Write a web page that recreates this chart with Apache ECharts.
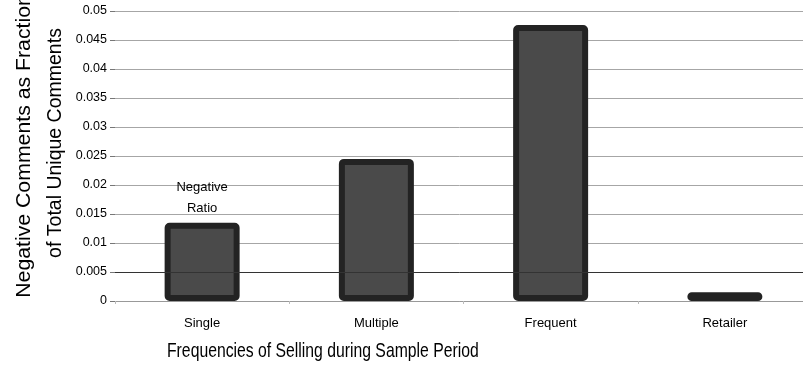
<!DOCTYPE html>
<html><head><meta charset="utf-8">
<script src="https://cdn.jsdelivr.net/npm/echarts@6/dist/echarts.min.js"></script>
<style>html,body{margin:0;padding:0;background:#fff}#c{width:803px;height:367px}</style>
</head><body><div id="c"></div>
<script>
var categories = ['Single', 'Multiple', 'Frequent', 'Retailer'];
var negativeRatio = [0.0135, 0.0245, 0.0476, 0.0015];
var yTicks = [0, 0.005, 0.01, 0.015, 0.02, 0.025, 0.03, 0.035, 0.04, 0.045, 0.05];
var seriesName = 'Negative\nRatio';
var yTitle1 = 'Negative Comments as Fraction';
var yTitle2 = 'of Total Unique Comments';
var xTitle = 'Frequencies of Selling during Sample Period';

var chart = echarts.init(document.getElementById('c'), null, {renderer: 'canvas'});
var font = '"Liberation Sans", Arial, sans-serif';
chart.setOption({
  animation: false,
  grid: {left: 115, right: -9, top: 11, bottom: 66, containLabel: false, outerBoundsMode: 'none'},
  graphic: [
    {type: 'text', x: 167, y: 362, scaleX: 0.75,
      style: {text: xTitle, font: '21px ' + font, fill: '#000', textAlign: 'left', textVerticalAlign: 'bottom'}},
    {type: 'text', x: 25, y: 146, rotation: Math.PI / 2, scaleX: 1.09,
      style: {text: yTitle1, font: '19.5px ' + font, fill: '#000', textAlign: 'center', textVerticalAlign: 'middle'}},
    {type: 'text', x: 56, y: 143, rotation: Math.PI / 2,
      style: {text: yTitle2, font: '19.5px ' + font, fill: '#000', textAlign: 'center', textVerticalAlign: 'middle'}}
  ],
  xAxis: {
    type: 'category', data: categories,
    axisLine: {lineStyle: {color: '#999', width: 1}},
    axisTick: {show: true, length: 3, lineStyle: {color: '#bbb'}},
    axisLabel: {fontFamily: font, fontSize: 13, color: '#000', margin: 16}
  },
  yAxis: {
    type: 'value', min: yTicks[0], max: yTicks[yTicks.length - 1], interval: 0.005,
    axisLine: {show: false},
    axisTick: {show: true, length: 5, lineStyle: {color: '#777'}},
    axisLabel: {fontFamily: font, fontSize: 12.5, color: '#000', margin: 8,
      formatter: function (v) { return String(+v.toFixed(3)); }},
    splitLine: {lineStyle: {color: '#a6a6a6', width: 1}}
  },
  series: [{
    type: 'bar', name: seriesName,
    data: negativeRatio.map(function (v, i) {
      return i === 0 ? {value: v, label: {show: true}} : v;
    }),
    barWidth: 75,
    itemStyle: {color: '#4a4a4a', borderColor: '#232323', borderWidth: 6, borderRadius: 2},
    label: {show: false, position: 'top', distance: 4, formatter: seriesName,
      fontFamily: font, fontSize: 13, color: '#000', lineHeight: 21},
    markLine: {
      silent: true, symbol: ['none', 'none'], precision: 4,
      label: {show: false},
      lineStyle: {color: '#333', width: 1, type: 'solid'},
      data: [{yAxis: 0.005}]
    }
  }]
});
</script></body></html>
